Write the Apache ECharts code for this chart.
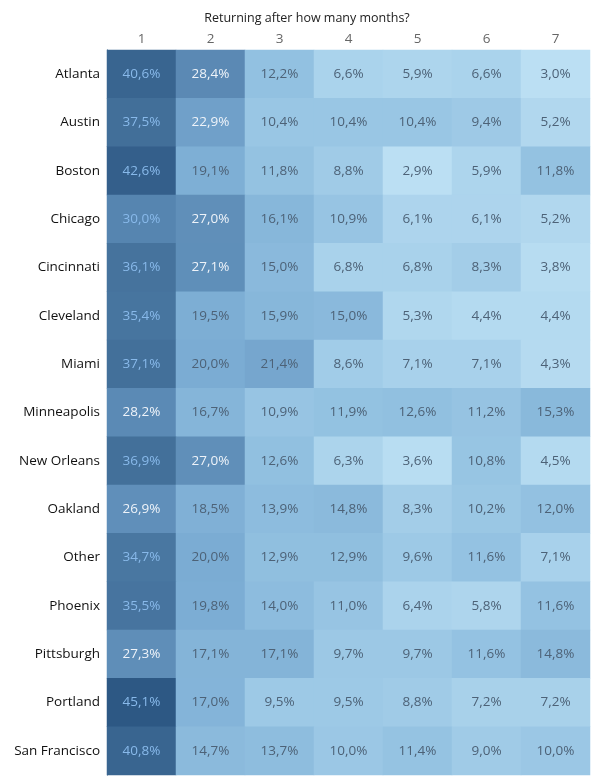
<!DOCTYPE html>
<html>
<head>
<meta charset="utf-8">
<script src="https://cdn.jsdelivr.net/npm/echarts@6/dist/echarts.min.js"></script>
<style>html,body{margin:0;padding:0;background:#fff}#c{width:600px;height:783px}</style>
</head>
<body>
<div id="c"></div>
<script>
const titleText = 'Returning after how many months?';
const months = ['1', '2', '3', '4', '5', '6', '7'];
const cities = ['Atlanta', 'Austin', 'Boston', 'Chicago', 'Cincinnati', 'Cleveland', 'Miami',
  'Minneapolis', 'New Orleans', 'Oakland', 'Other', 'Phoenix', 'Pittsburgh', 'Portland', 'San Francisco'];
const atlanta = [40.6, 28.4, 12.2, 6.6, 5.9, 6.6, 3.0];
const austin = [37.5, 22.9, 10.4, 10.4, 10.4, 9.4, 5.2];
const boston = [42.6, 19.1, 11.8, 8.8, 2.9, 5.9, 11.8];
const chicago = [30.0, 27.0, 16.1, 10.9, 6.1, 6.1, 5.2];
const cincinnati = [36.1, 27.1, 15.0, 6.8, 6.8, 8.3, 3.8];
const cleveland = [35.4, 19.5, 15.9, 15.0, 5.3, 4.4, 4.4];
const miami = [37.1, 20.0, 21.4, 8.6, 7.1, 7.1, 4.3];
const minneapolis = [28.2, 16.7, 10.9, 11.9, 12.6, 11.2, 15.3];
const newOrleans = [36.9, 27.0, 12.6, 6.3, 3.6, 10.8, 4.5];
const oakland = [26.9, 18.5, 13.9, 14.8, 8.3, 10.2, 12.0];
const other = [34.7, 20.0, 12.9, 12.9, 9.6, 11.6, 7.1];
const phoenix = [35.5, 19.8, 14.0, 11.0, 6.4, 5.8, 11.6];
const pittsburgh = [27.3, 17.1, 17.1, 9.7, 9.7, 11.6, 14.8];
const portland = [45.1, 17.0, 9.5, 9.5, 8.8, 7.2, 7.2];
const sanFrancisco = [40.8, 14.7, 13.7, 10.0, 11.4, 9.0, 10.0];

const rows = [atlanta, austin, boston, chicago, cincinnati, cleveland, miami,
  minneapolis, newOrleans, oakland, other, phoenix, pittsburgh, portland, sanFrancisco];

function labelColor(v) {
  if (v >= 29.5) return '#88b9ea';
  if (v >= 22) return '#eef3f9';
  return '#4d6277';
}

const data = [];
rows.forEach((r, yi) => {
  r.forEach((v, xi) => {
    data.push({ value: [xi, yi, v], label: { color: labelColor(v) } });
  });
});

const FONT = '"Open Sans", "Noto Sans", sans-serif';
const chart = echarts.init(document.getElementById('c'), null, { renderer: 'canvas' });
chart.setOption({
  animation: false,
  backgroundColor: '#ffffff',
  title: {
    text: titleText,
    left: 302,
    top: 7,
    textAlign: 'center',
    textStyle: { fontFamily: FONT, fontSize: 12.5, fontWeight: 'normal', color: '#222' }
  },
  grid: { left: 107, right: 10, top: 50, bottom: 8 },
  xAxis: {
    type: 'category',
    data: months,
    position: 'top',
    axisLine: { show: false },
    axisTick: { show: false },
    splitLine: { show: false },
    axisLabel: { color: '#666', fontFamily: FONT, fontSize: 13.5, margin: 4 }
  },
  yAxis: {
    type: 'category',
    data: cities,
    inverse: true,
    axisLine: { show: true, lineStyle: { color: '#2d5a87', width: 1 } },
    axisTick: { show: false },
    splitLine: { show: false },
    axisLabel: { color: '#111', fontFamily: FONT, fontSize: 13.5, margin: 7 }
  },
  visualMap: {
    show: false,
    type: 'continuous',
    dimension: 2,
    min: 2.9,
    max: 45.1,
    inRange: { color: ['#bbdff3', '#95c3e2', '#7cadd4', '#5b8ab5', '#44719b', '#2d5884'] }
  },
  series: [{
    type: 'heatmap',
    data: data,
    itemStyle: { borderWidth: 0 },
    label: {
      show: true,
      fontFamily: FONT,
      fontSize: 13.5,
      formatter: p => p.value[2].toFixed(1).replace('.', ',') + '%'
    },
    emphasis: { disabled: true }
  }]
});
</script>
</body>
</html>
